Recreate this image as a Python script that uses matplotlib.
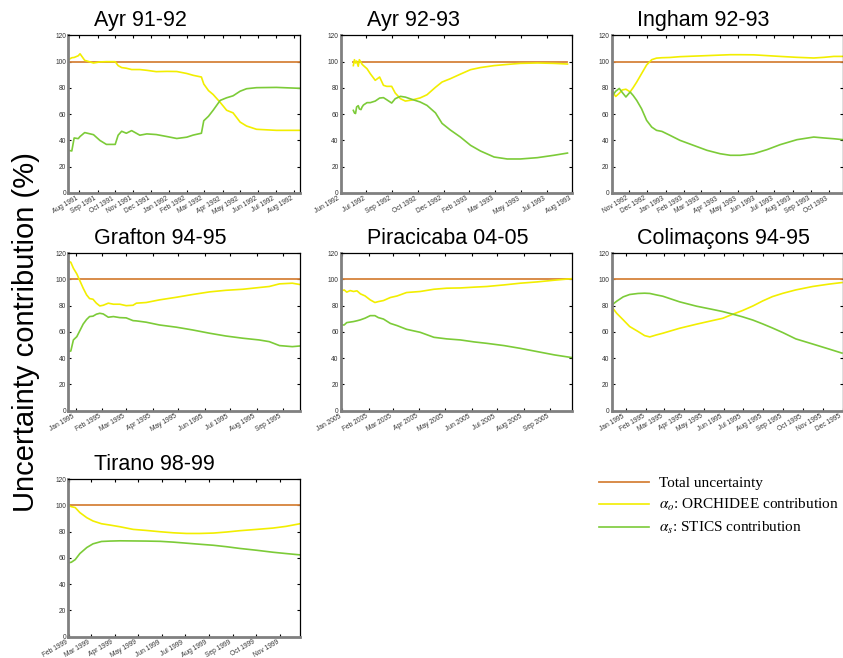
import matplotlib
matplotlib.use('Agg')
import matplotlib.pyplot as plt
import matplotlib.dates as mdates
import pandas as pd

plt.rcParams['font.family'] = ['Liberation Sans', 'DejaVu Sans']
plt.rcParams['mathtext.fontset'] = 'stix'

TOTAL = 100  # total uncertainty, constant reference

# Ayr 91-92 (days counted from 1991-07-13)
ayr9192_days = [0, 6, 10, 17, 20, 28, 43, 54, 65, 80, 85, 91, 99, 108, 122, 134, 150, 168,
                185, 202, 213, 227, 231, 239, 247, 259, 270, 281, 293, 304, 321, 355, 395]
ayr9192_orchidee = [101.5, 103, 103.2, 104.5, 106, 101, 99, 99.8, 100, 100, 97, 95.5, 95, 94, 94,
                    93.4, 92.4, 92.6, 92.5, 91, 89.6, 88.3, 83, 78, 75, 69, 63, 61, 54, 51, 48.5,
                    47.7, 47.7]
ayr9192_stics = [32.5, 32, 41.9, 41.4, 43, 46, 44.4, 40, 37, 37, 44, 47, 45.5, 47.5, 44, 45, 44.5,
                 43, 41.5, 42.5, 44.1, 45.5, 55, 58.4, 63, 70.5, 72.5, 74, 77.5, 79.4, 80.2, 80.4,
                 79.7]

# Ayr 92-93 (days counted from 1992-06-11)
ayr9293_days = [23, 25, 27, 29, 32, 34, 37, 39, 41.5, 48, 54, 63, 71, 78, 84, 93, 99.5, 109, 118,
                130, 145, 157.5, 173, 185, 200, 218.5, 237, 255, 280, 304, 328, 359, 389, 414]
ayr9293_orchidee = [97, 101.5, 99, 100.5, 96.5, 101.5, 99.5, 98, 97, 94.6, 90.8, 85.8, 88.3, 82,
                    81.2, 81.2, 76.1, 71.8, 70, 70.8, 72.4, 74.8, 80.5, 84.5, 87, 90.5, 93.9, 95.5,
                    97, 97.9, 98.7, 99, 98.7, 98.2]
ayr9293_stics = [62.9, 61, 60.5, 65.5, 66.5, 64, 63.5, 65.5, 67, 68.8, 68.8, 70, 72.3, 72.6, 71,
                 68.5, 71.8, 73.6, 73, 71.3, 69.3, 66.7, 61, 53, 48, 42.6, 36.3, 32, 27.4, 25.9,
                 25.9, 26.9, 28.7, 30.4]
ayr9293_ticklabels = ['Jun 1992', 'Jul 1992', 'Sep 1992', 'Oct 1992', 'Dec 1992', 'Feb 1993',
                      'Mar 1993', 'May 1993', 'Jul 1993', 'Aug 1993']

# Ingham 92-93 (days counted from 1992-10-03)
ingham_days = [0, 3, 7, 13, 18, 24, 31, 36, 42, 50, 58.5, 67, 75, 84, 97.5, 114, 136.5, 159, 181,
               198, 214.5, 237, 259, 281, 309, 337, 354, 370.5, 386]
ingham_orchidee = [78.6, 76, 73.5, 76, 78.5, 79, 77, 80.2, 84.5, 90.8, 97.5, 101.5, 102.7, 103,
                   103.2, 103.8, 104.2, 104.6, 105, 105.3, 105.3, 105.2, 104.6, 104, 103.3, 102.8,
                   103.3, 104, 104]
ingham_stics = [73.6, 75, 77.5, 79.6, 76.5, 73.1, 76.9, 74.3, 70.5, 64.2, 55.3, 50.2, 47.7, 46.9,
                43.9, 40.1, 36.3, 32.5, 29.9, 28.7, 28.7, 29.9, 33, 36.8, 40.6, 42.6, 41.9, 41.3,
                40.6]

# Grafton 94-95 (days counted from 1994-12-23)
grafton_days = [0, 3, 6, 10, 14, 17.5, 21.5, 25, 29, 33, 37, 41, 47, 53, 60.5, 68, 76, 80, 91.5,
                107, 127, 146, 166, 185, 205, 224, 236, 248, 263, 272]
grafton_orchidee = [114, 113, 108.5, 104.2, 98.4, 93.3, 88.2, 85.4, 84.9, 81.9, 79.8, 80.3, 81.9,
                    81.1, 81.1, 80, 80.3, 81.9, 82.4, 84.4, 86.4, 88.5, 90.5, 91.7, 92.5, 93.8,
                    94.6, 96.6, 97.1, 96.1]
grafton_stics = [45, 45.5, 53.9, 56.4, 61.5, 66, 69.5, 71.7, 72, 73.5, 74.2, 73.7, 71.2, 71.7,
                 70.9, 70.7, 68.6, 68.4, 67.4, 65.3, 63.6, 61.5, 59, 56.9, 55.2, 53.9, 52.6, 49.6,
                 48.8, 49.3]

# Piracicaba 04-05 (days counted from 2004-12-30)
piracicaba_days = [0, 1, 4, 7, 11, 15, 19, 23, 28.5, 34.5, 40, 44, 50, 58, 66, 77, 93, 109, 124,
                   140, 156, 171, 191, 210, 230, 250, 271]
piracicaba_orchidee = [88.2, 91.3, 92, 90.3, 91.5, 90.8, 91.3, 89, 87.4, 84.4, 82.4, 83.1, 83.9,
                       86.2, 87.4, 90, 90.8, 92.5, 93.3, 93.5, 94.1, 94.6, 95.8, 97.1, 98.1, 99.4,
                       100.6]
piracicaba_stics = [67.9, 65.3, 65.3, 67.1, 67.5, 67.9, 68.5, 69.2, 70.5, 72.4, 72.4, 70.9, 69.8,
                    66.5, 64.8, 62, 59.7, 55.9, 54.7, 53.9, 52.4, 51.3, 49.6, 47.5, 45, 42.5, 40.4]

# Colimaçons 94-95 (days counted from 1994-12-10)
colimacons_days = [0, 8, 18, 28, 41, 51, 59, 69, 79, 105, 131, 156, 171.5, 187, 202, 218, 233,
                   248, 264, 284, 310, 335, 355]
colimacons_orchidee = [79.3, 74.2, 69.2, 64.1, 60.3, 57.2, 56.2, 57.7, 59, 62.8, 65.9, 68.7, 70.4,
                       73.5, 76.3, 79.8, 83.6, 86.9, 89.4, 92, 94.6, 96.4, 97.6]
colimacons_stics = [80.3, 83.4, 86.7, 88.5, 89.3, 89.5, 89.3, 88.2, 87.2, 82.9, 79.6, 77.1, 75.5,
                    73.5, 71.5, 69, 66.1, 63, 59.5, 54.7, 50.8, 47, 43.9]

# Tirano 98-99 (days counted from 1999-01-31)
tirano_days = [0, 4, 9, 15, 24, 32, 43, 54, 67, 84, 101, 119, 136, 153, 170, 188, 205, 222, 244,
               265, 282, 300]
tirano_orchidee = [100, 99, 98.3, 94.5, 90.6, 88.1, 86, 85, 83.7, 81.7, 80.9, 79.9, 79.1, 78.6,
                   78.6, 78.9, 79.7, 80.7, 81.7, 82.7, 84, 86]
tirano_stics = [56.2, 56.7, 58.7, 63.3, 67.9, 70.7, 72.5, 72.8, 73, 72.9, 72.8, 72.6, 72, 71.2,
                70.4, 69.6, 68.5, 67.2, 65.8, 64.3, 63.3, 62.3]

c_total = '#d6823a'
c_orch = '#f2ee00'
c_stics = '#7ccb38'

fig = plt.figure(figsize=(8.43, 6.58), dpi=100)

cols = [0.081, 0.4042, 0.7254]
rows = [0.7067, 0.3758, 0.0324]
w, h = 0.2748, 0.2395


def panel(col, row, title, start, days, orch, stics, xmax, step=None, ticklabels=None):
    ax = fig.add_axes([cols[col], rows[row], w, h])
    t0 = pd.Timestamp(start)
    x = t0 + pd.to_timedelta(days, unit='D')
    l1, = ax.plot(x, [TOTAL] * len(days), color=c_total, lw=1.3)
    l2, = ax.plot(x, orch, color=c_orch, lw=1.2)
    l3, = ax.plot(x, stics, color=c_stics, lw=1.2)
    ax.set_xlim(t0, t0 + pd.Timedelta(days=xmax))
    ax.set_ylim(0, 120)
    ax.set_yticks(range(0, 121, 20))
    if step is None:
        ax.xaxis.set_major_locator(mdates.MonthLocator())
        ax.xaxis.set_major_formatter(mdates.DateFormatter('%b %Y'))
    else:
        ticks = [t0 + pd.Timedelta(days=step * k) for k in range(len(ticklabels))]
        ax.set_xticks(ticks)
        ax.set_xticklabels(ticklabels)
    ax.tick_params(direction='in', top=True, right=True, length=2.5, width=0.8,
                   labelsize=4.8, labelcolor='#333333', pad=1.5)
    for lab in ax.get_xticklabels():
        lab.set_rotation(30)
        lab.set_ha('right')
    for s in ['left', 'bottom']:
        ax.spines[s].set_color('#808080')
        ax.spines[s].set_linewidth(2)
    for s in ['top', 'right']:
        ax.spines[s].set_color('black')
        ax.spines[s].set_linewidth(0.9)
    ax.text(0.112, 1.06, title, transform=ax.transAxes, fontsize=15.5,
            ha='left', va='baseline')
    return l1, l2, l3


panel(0, 0, 'Ayr 91-92', '1991-07-13', ayr9192_days, ayr9192_orchidee, ayr9192_stics, 395)
panel(1, 0, 'Ayr 92-93', '1992-06-11', ayr9293_days, ayr9293_orchidee, ayr9293_stics, 423,
      step=47, ticklabels=ayr9293_ticklabels)
panel(2, 0, 'Ingham 92-93', '1992-10-03', ingham_days, ingham_orchidee, ingham_stics, 386)
panel(0, 1, 'Grafton 94-95', '1994-12-23', grafton_days, grafton_orchidee, grafton_stics, 272)
panel(1, 1, 'Piracicaba 04-05', '2004-12-30', piracicaba_days, piracicaba_orchidee,
      piracicaba_stics, 271)
panel(2, 1, 'Colimaçons 94-95', '1994-12-10', colimacons_days, colimacons_orchidee,
      colimacons_stics, 357)
handles = panel(0, 2, 'Tirano 98-99', '1999-01-31', tirano_days, tirano_orchidee, tirano_stics, 300)

fig.text(0.031, 0.496, 'Uncertainty contribution (%)', rotation=90, fontsize=21,
         ha='center', va='center')

fig.legend(handles, ['Total uncertainty', r'$\alpha_o$: ORCHIDEE contribution',
                     r'$\alpha_s$: STICS contribution'],
           loc='upper left', bbox_to_anchor=(0.7106, 0.276), frameon=False,
           prop={'family': 'Liberation Serif', 'size': 11}, handlelength=3.3,
           handletextpad=0.6, labelspacing=0.45, borderaxespad=0, borderpad=0)

fig.savefig('out.png', dpi=100)
